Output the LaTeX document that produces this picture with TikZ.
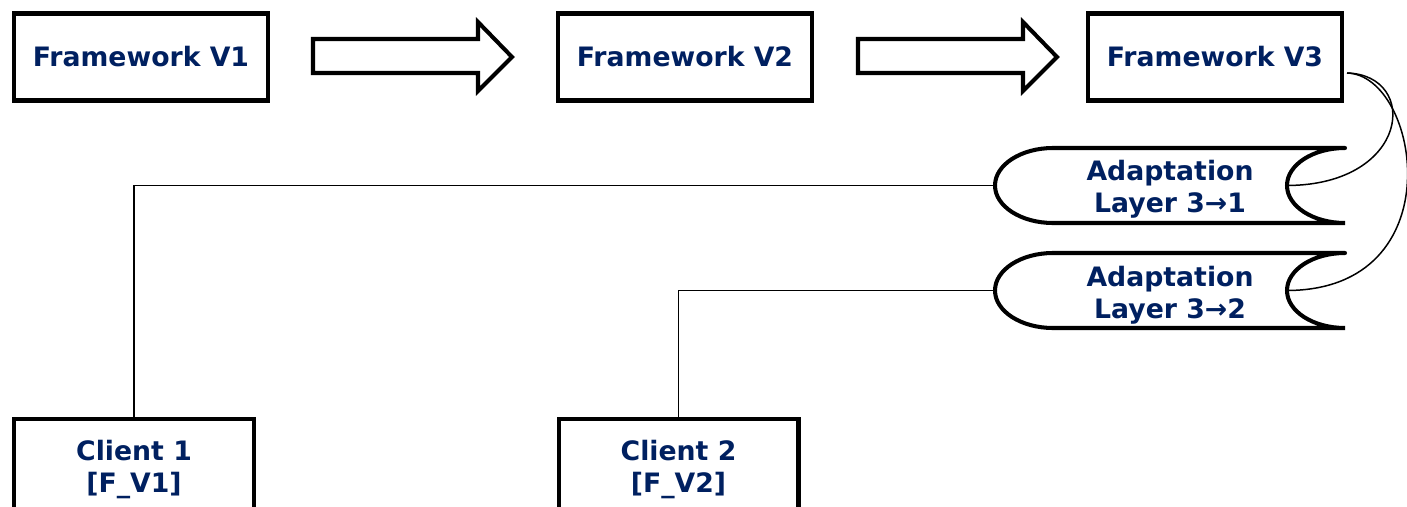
\documentclass[tikz,border=0pt]{standalone}
\usepackage{fontspec}
\setmainfont{DejaVu Sans}
\definecolor{navy}{RGB}{0,32,96}
\tikzset{
  txt/.style={text=navy,font=\bfseries\fontsize{15.2}{18.4}\selectfont,align=center},
  fwbox/.style={txt,draw,line width=2.3pt,minimum width=5.08cm,minimum height=1.74cm},
  clbox/.style={txt,draw,line width=2.3pt,minimum width=4.8cm,minimum height=2.02cm},
  blockarrow/.style={draw,line width=2.3pt,fill=white},
  layer/.style={draw,line width=2.3pt,line cap=round},
  conn/.style={draw,line width=0.85pt}
}
\begin{document}
\begin{tikzpicture}[x=0.02cm,y=0.02cm]
  \path[use as bounding box,clip] (0,0) rectangle (1407,-507);
  \node[fwbox] (fw1) at (141,-57) {Framework V1};
  \node[fwbox] (fw2) at (685,-57) {Framework V2};
  \node[fwbox] (fw3) at (1215,-57) {Framework V3};
  \foreach \dx in {0,545}
    \draw[blockarrow,xshift=\dx*0.02cm] (313,-39) -- (478,-39) -- (478,-22) -- (512,-57) -- (478,-91) -- (478,-73) -- (313,-73) -- cycle;
  \draw[layer] (1345,-148) -- (1053,-148) arc[start angle=90,end angle=270,x radius=58,y radius=37.5] -- (1345,-223) arc[start angle=270,end angle=90,x radius=58,y radius=37.5];
  \draw[layer] (1345,-253) -- (1053,-253) arc[start angle=90,end angle=270,x radius=58,y radius=37.5] -- (1345,-328) arc[start angle=270,end angle=90,x radius=58,y radius=37.5];
  \node[txt] (l1) at (1170,-189) {Adaptation\\Layer 3→1};
  \node[txt] (l2) at (1170,-295) {Adaptation\\Layer 3→2};
  \coordinate (l1w) at (995,-185.5);
  \coordinate (l1e) at (1287,-185.5);
  \coordinate (l2w) at (995,-290.5);
  \coordinate (l2e) at (1287,-290.5);
  \coordinate (v3out) at (1347,-73);
  \node[clbox] (c1) at (134,-469.5) {Client 1\\{[F\_V1]}};
  \node[clbox] (c2) at (678.5,-469.5) {Client 2\\{[F\_V2]}};
  \draw[conn] (l1w) -| (c1.north);
  \draw[conn] (l2w) -| (c2.north);
  \draw[conn] (v3out) .. controls (1420,-75) and (1410,-185) .. (l1e);
  \draw[conn] (v3out) .. controls (1420,-75) and (1455,-290) .. (l2e);
\end{tikzpicture}
\end{document}
